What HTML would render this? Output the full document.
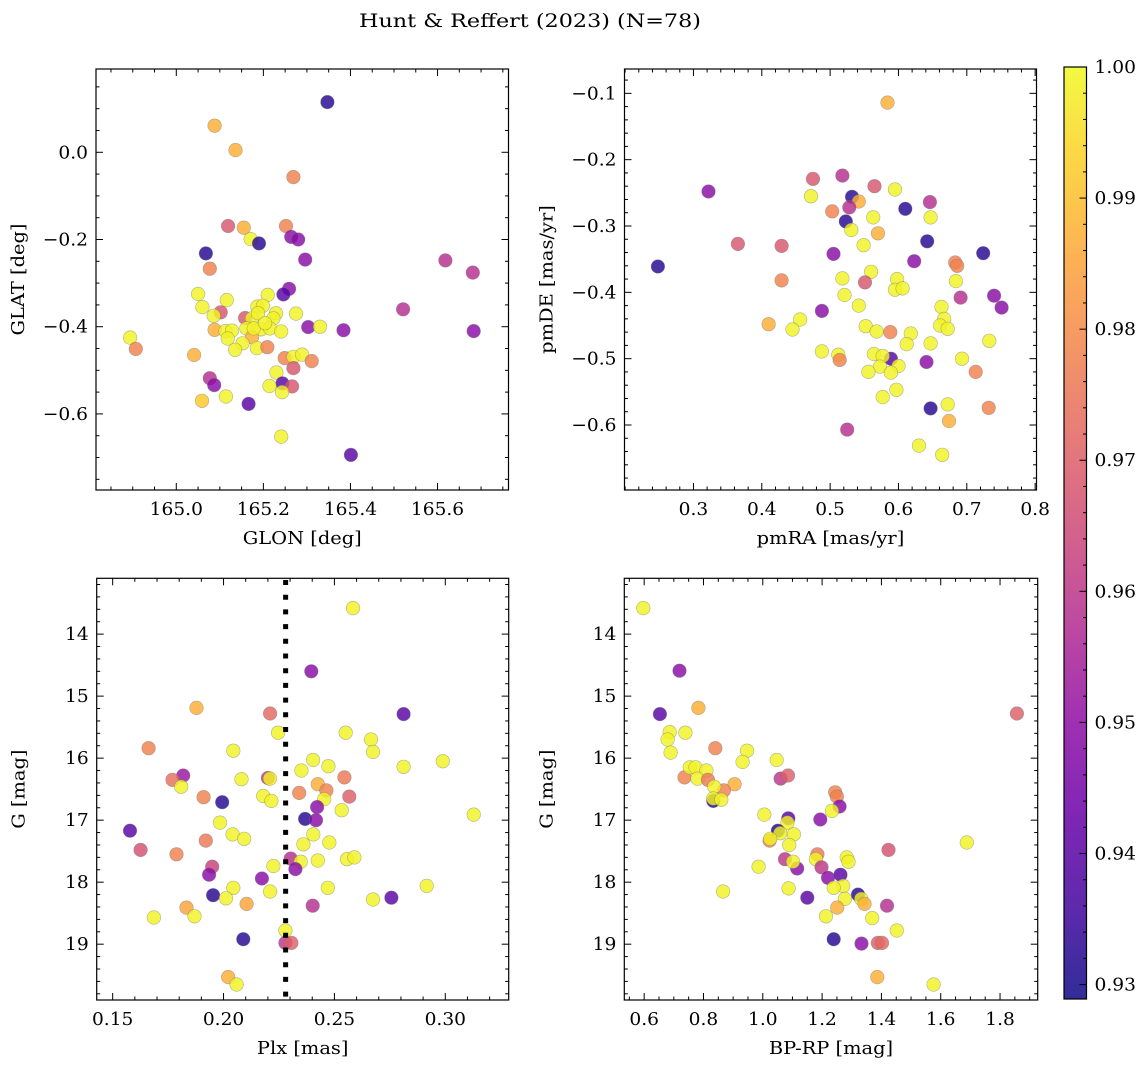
<!DOCTYPE html>
<html><head><meta charset="utf-8">
<style>
body{margin:0;background:#fff;}
svg text{font-family:"DejaVu Serif","Liberation Serif",serif;fill:#000;}
</style></head>
<body>
<svg id="fig" width="1148" height="1067" viewBox="0 0 1148 1067" xmlns="http://www.w3.org/2000/svg">
<defs>
<linearGradient id="cbgrad" x1="0" y1="1" x2="0" y2="0"></linearGradient>
</defs>
<text id="ttl" x="530" y="27" font-size="19" text-anchor="middle">Hunt &amp; Reffert (2023) (N=78)</text>
</svg>
<script>
// ---- Panel 1: GLON / GLAT ----
const glon = [165.347,165.088,165.136,165.269,165.119,165.155,165.252,165.171,165.190,165.264,165.280,165.068,165.296,165.077,165.618,165.681,165.259,165.246,165.050,165.210,165.116,165.060,165.186,165.199,165.102,165.086,165.275,165.229,165.223,165.158,165.174,165.188,165.521,165.303,165.330,165.384,165.683,164.894,164.907,165.088,165.113,165.128,165.118,165.161,165.195,165.215,165.241,165.174,165.152,165.135,165.185,165.209,165.041,165.249,165.269,165.289,165.311,165.269,165.230,165.077,165.087,165.244,165.266,165.214,165.243,165.114,165.059,165.166,165.241,165.401,165.178,165.204];
const glat = [0.115,0.061,0.005,-0.057,-0.169,-0.173,-0.169,-0.199,-0.209,-0.194,-0.200,-0.232,-0.246,-0.267,-0.248,-0.276,-0.313,-0.326,-0.325,-0.327,-0.339,-0.355,-0.354,-0.352,-0.367,-0.375,-0.370,-0.369,-0.381,-0.380,-0.381,-0.369,-0.360,-0.401,-0.400,-0.408,-0.410,-0.425,-0.451,-0.407,-0.410,-0.409,-0.427,-0.404,-0.406,-0.404,-0.411,-0.424,-0.438,-0.453,-0.449,-0.447,-0.465,-0.472,-0.469,-0.464,-0.479,-0.495,-0.505,-0.518,-0.534,-0.530,-0.537,-0.536,-0.550,-0.560,-0.570,-0.577,-0.652,-0.694,-0.404,-0.392];
const prob1 = [0.932,0.987,0.987,0.978,0.968,0.987,0.978,0.999,0.932,0.949,0.949,0.932,0.949,0.978,0.958,0.958,0.949,0.940,0.999,0.999,0.999,0.999,0.999,0.999,0.968,0.999,0.999,0.999,0.999,0.968,0.999,0.999,0.958,0.949,0.999,0.949,0.949,0.999,0.978,0.987,0.999,0.999,0.999,0.999,0.999,0.999,0.999,0.987,0.999,0.999,0.999,0.978,0.987,0.978,0.999,0.999,0.978,0.968,0.999,0.958,0.949,0.940,0.968,0.999,0.999,0.999,0.992,0.940,0.999,0.940,0.999,0.999];

// ---- Panel 2: pmRA / pmDE ----
const pmra = [0.584,0.322,0.475,0.518,0.565,0.595,0.472,0.532,0.542,0.528,0.503,0.610,0.646,0.563,0.647,0.523,0.531,0.570,0.365,0.429,0.549,0.642,0.505,0.724,0.248,0.623,0.683,0.686,0.560,0.429,0.518,0.598,0.551,0.684,0.595,0.606,0.521,0.691,0.740,0.751,0.542,0.488,0.663,0.456,0.410,0.445,0.552,0.568,0.588,0.618,0.667,0.661,0.672,0.612,0.647,0.733,0.488,0.512,0.514,0.564,0.589,0.577,0.573,0.600,0.556,0.589,0.641,0.693,0.713,0.597,0.577,0.647,0.672,0.732,0.674,0.525,0.630,0.664];
const pmde = [-0.114,-0.248,-0.229,-0.224,-0.240,-0.245,-0.255,-0.256,-0.263,-0.272,-0.278,-0.274,-0.264,-0.287,-0.287,-0.293,-0.306,-0.311,-0.327,-0.330,-0.329,-0.323,-0.342,-0.341,-0.361,-0.353,-0.355,-0.360,-0.369,-0.382,-0.379,-0.380,-0.385,-0.383,-0.396,-0.394,-0.404,-0.408,-0.405,-0.423,-0.420,-0.428,-0.422,-0.441,-0.448,-0.456,-0.451,-0.459,-0.460,-0.462,-0.440,-0.450,-0.455,-0.478,-0.477,-0.473,-0.489,-0.494,-0.502,-0.493,-0.500,-0.496,-0.512,-0.511,-0.520,-0.521,-0.505,-0.500,-0.520,-0.547,-0.558,-0.575,-0.569,-0.574,-0.594,-0.607,-0.631,-0.645];
const prob2 = [0.987,0.949,0.968,0.958,0.968,0.999,0.999,0.932,0.987,0.958,0.978,0.932,0.958,0.999,0.999,0.932,0.999,0.987,0.968,0.968,0.999,0.932,0.949,0.932,0.932,0.949,0.978,0.978,0.999,0.978,0.999,0.999,0.968,0.999,0.999,0.999,0.999,0.958,0.949,0.949,0.999,0.949,0.999,0.999,0.987,0.999,0.999,0.999,0.978,0.999,0.999,0.999,0.999,0.999,0.999,0.999,0.999,0.999,0.978,0.999,0.940,0.999,0.999,0.999,0.999,0.999,0.949,0.999,0.978,0.999,0.999,0.932,0.999,0.978,0.987,0.958,0.999,0.999];

// ---- Panel 3: Plx / G ----
const plx = [0.2584,0.2396,0.1878,0.2210,0.2812,0.2246,0.2551,0.2665,0.1662,0.2044,0.2674,0.2404,0.2989,0.2351,0.2473,0.2812,0.2545,0.1818,0.1770,0.2200,0.2209,0.2081,0.1809,0.2425,0.2464,0.2341,0.2567,0.1910,0.1994,0.2454,0.2179,0.2216,0.2422,0.2533,0.3128,0.2368,0.2417,0.1578,0.1984,0.2041,0.2093,0.1920,0.2405,0.2360,0.2477,0.1626,0.1788,0.2303,0.2348,0.2425,0.2557,0.2590,0.2324,0.1949,0.1935,0.2225,0.2173,0.2044,0.1953,0.2011,0.2210,0.2470,0.2916,0.2674,0.2757,0.2104,0.2402,0.1833,0.1869,0.1686,0.2279,0.2089,0.2279,0.2306,0.2021,0.2059];
const g3 = [13.58,14.60,15.19,15.28,15.29,15.59,15.59,15.70,15.84,15.88,15.90,16.03,16.05,16.20,16.13,16.14,16.31,16.28,16.35,16.32,16.33,16.34,16.46,16.42,16.52,16.56,16.62,16.63,16.71,16.66,16.61,16.69,16.79,16.84,16.91,16.98,17.00,17.17,17.04,17.23,17.30,17.33,17.23,17.39,17.36,17.48,17.55,17.62,17.67,17.65,17.63,17.60,17.79,17.75,17.88,17.74,17.94,18.09,18.21,18.26,18.15,18.09,18.06,18.28,18.25,18.35,18.38,18.41,18.55,18.57,18.78,18.92,18.98,18.98,19.53,19.65];
const prob3 = [0.999,0.949,0.987,0.972,0.940,0.999,0.999,0.999,0.978,0.999,0.999,0.999,0.999,0.999,0.999,0.999,0.976,0.952,0.974,0.960,0.999,0.999,0.999,0.987,0.978,0.978,0.970,0.978,0.932,0.999,0.999,0.999,0.949,0.999,0.999,0.932,0.949,0.940,0.999,0.999,0.999,0.976,0.999,0.999,0.999,0.967,0.978,0.958,0.999,0.999,0.999,0.999,0.949,0.963,0.949,0.999,0.949,0.999,0.932,0.999,0.999,0.999,0.999,0.999,0.940,0.985,0.958,0.985,0.999,0.999,0.999,0.932,0.960,0.970,0.987,0.999];

// ---- Panel 4: BP-RP / G ----
const bprp = [0.597,0.719,0.653,0.783,1.857,0.686,0.739,0.679,0.689,0.840,0.947,0.932,1.047,0.736,0.754,0.773,0.810,0.780,0.815,1.060,1.085,0.905,0.869,0.836,0.833,0.833,0.860,1.244,1.250,1.259,1.233,1.005,1.086,1.194,1.083,1.051,1.059,1.105,1.023,1.025,1.089,1.688,1.424,1.184,1.179,1.075,1.198,1.116,1.102,1.283,1.289,0.986,1.220,1.262,1.271,1.239,1.087,0.866,1.150,1.321,1.332,1.277,1.343,1.419,1.251,1.213,1.369,1.452,1.239,1.333,1.388,1.402,1.386,1.576];
const g4 = [13.58,14.59,15.29,15.19,15.28,15.58,15.59,15.70,15.91,15.84,15.88,16.06,16.03,16.31,16.15,16.15,16.20,16.33,16.35,16.33,16.28,16.42,16.52,16.46,16.69,16.65,16.67,16.55,16.62,16.78,16.85,16.91,16.97,16.99,17.04,17.17,17.21,17.23,17.33,17.30,17.40,17.36,17.48,17.55,17.63,17.63,17.76,17.78,17.67,17.60,17.67,17.75,17.93,17.88,18.06,18.09,18.10,18.15,18.25,18.20,18.27,18.27,18.35,18.38,18.41,18.55,18.58,18.78,18.92,18.99,18.98,18.98,19.53,19.65];
const prob4 = [0.999,0.949,0.940,0.987,0.970,0.999,0.999,0.999,0.999,0.978,0.999,0.999,0.999,0.978,0.999,0.999,0.999,0.999,0.976,0.960,0.970,0.987,0.978,0.999,0.932,0.999,0.999,0.978,0.978,0.949,0.999,0.999,0.940,0.949,0.999,0.932,0.999,0.999,0.978,0.999,0.999,0.999,0.967,0.976,0.999,0.960,0.960,0.949,0.999,0.999,0.999,0.999,0.949,0.940,0.999,0.999,0.999,0.999,0.940,0.932,0.999,0.999,0.987,0.958,0.987,0.999,0.999,0.999,0.932,0.949,0.970,0.972,0.987,0.999];

// ---- Tick labels ----
const p1xTicks = [165.0,165.2,165.4,165.6];
const p1xLabels = ["165.0","165.2","165.4","165.6"];
const p1yTicks = [0.0,-0.2,-0.4,-0.6];
const p1yLabels = ["0.0","\u22120.2","\u22120.4","\u22120.6"];
const p2xTicks = [0.3,0.4,0.5,0.6,0.7,0.8];
const p2xLabels = ["0.3","0.4","0.5","0.6","0.7","0.8"];
const p2yTicks = [-0.1,-0.2,-0.3,-0.4,-0.5,-0.6];
const p2yLabels = ["\u22120.1","\u22120.2","\u22120.3","\u22120.4","\u22120.5","\u22120.6"];
const p3xTicks = [0.15,0.20,0.25,0.30];
const p3xLabels = ["0.15","0.20","0.25","0.30"];
const gTicks = [14,15,16,17,18,19];
const gLabels = ["14","15","16","17","18","19"];
const p4xTicks = [0.6,0.8,1.0,1.2,1.4,1.6,1.8];
const p4xLabels = ["0.6","0.8","1.0","1.2","1.4","1.6","1.8"];
const cbTicks = [1.00,0.99,0.98,0.97,0.96,0.95,0.94,0.93];
const cbLabels = ["1.00","0.99","0.98","0.97","0.96","0.95","0.94","0.93"];
const plxMean = 0.228;

const NS = "http://www.w3.org/2000/svg";
const svg = document.getElementById('fig');
const PL = [[0,13,8,135],[0.1,65,4,157],[0.2,106,0,168],[0.3,143,13,164],[0.4,177,42,144],[0.5,204,71,120],[0.6,225,100,98],[0.7,242,132,75],[0.8,252,166,54],[0.9,252,206,37],[1,240,249,33]];
function plasma(t){t=Math.max(0,Math.min(1,t));for(let i=1;i<PL.length;i++){if(t<=PL[i][0]){const a=PL[i-1],b=PL[i],f=(t-a[0])/(b[0]-a[0]);return 'rgb('+[1,2,3].map(k=>Math.round(a[k]+(b[k]-a[k])*f)).join(',')+')';}}return 'rgb(240,249,33)';}
const CMIN=0.9289, CMAX=1.0;
function mk(tag,attrs,parent){const e=document.createElementNS(NS,tag);for(const k in attrs)e.setAttribute(k,attrs[k]);(parent||svg).appendChild(e);return e;}
function labW(s,fs){let w=0;for(const ch of s){w+=(ch>='0'&&ch<='9')?0.636:(ch=='.'?0.318:(ch=='\u2212'?0.838:0.6));}return w*fs;}
const FS=18;
function tickText(parent,x,y,s,anchor,name){const t=mk('text',{x:x,y:y,'font-size':FS,'text-anchor':anchor},parent);t.textContent=s;
  t.setAttribute('textLength',labW(s,18.6).toFixed(1));
  t.setAttribute('lengthAdjust','spacingAndGlyphs');
  
  
  return t;}
const titles=[];

function panel(name,box,xd,yd,xT,xL,yT,yL,xMinor,yMinor,xs,ys,ps,xlab,ylab){
  const [L,T,R,B]=box;
  const g=mk('g',{});
  
  
  const sx=v=>L+(v-xd[0])/(xd[1]-xd[0])*(R-L);
  const sy=v=>T+(v-yd[1])/(yd[0]-yd[1])*(B-T);
  const pg=mk('g',{},g);
  
  
  for(let i=0;i<xs.length;i++){
    const c=mk('circle',{cx:sx(xs[i]).toFixed(1),cy:sy(ys[i]).toFixed(1),r:6.8,fill:plasma((ps[i]-CMIN)/(CMAX-CMIN)),'fill-opacity':0.82,stroke:'#777','stroke-opacity':0.55,'stroke-width':0.6},pg);
    
    
  }
  const tg=mk('g',{stroke:'#000','stroke-width':1},g);
  
  
  const eps=1e-9;
  const x0=Math.ceil(xd[0]/xMinor-eps);
  for(let k=x0;k*xMinor<=xd[1]+eps;k++){const v=k*xMinor;const isMaj=xT.some(t=>Math.abs(t-v)<xMinor/3);const len=isMaj?7:3.5;const px=sx(v);
    mk('line',{x1:px,x2:px,y1:B,y2:B-len},tg);mk('line',{x1:px,x2:px,y1:T,y2:T+len},tg);}
  const y0=Math.ceil(yd[0]/yMinor-eps);
  for(let k=y0;k*yMinor<=yd[1]+eps;k++){const v=k*yMinor;const isMaj=yT.some(t=>Math.abs(t-v)<yMinor/3);const len=isMaj?7:3.5;const py=sy(v);
    mk('line',{x1:L,x2:L+len,y1:py,y2:py},tg);mk('line',{x1:R,x2:R-len,y1:py,y2:py},tg);}
  xT.forEach((v,i)=>tickText(g,sx(v),B+25,xL[i],'middle','x-tick-label'));
  yT.forEach((v,i)=>tickText(g,L-8,sy(v)+6,yL[i],'end','y-tick-label'));
  const xl=mk('text',{x:(L+R)/2,y:B+54,'font-size':FS,'text-anchor':'middle'},g);xl.textContent=xlab;
  
  
  titles.push(xl);
  const yl=mk('text',{x:0,y:0,'font-size':FS,'text-anchor':'middle',transform:'translate('+(L-72)+','+((T+B)/2)+') rotate(-90)'},g);yl.textContent=ylab;
  
  
  titles.push(yl);
  const fr=mk('rect',{x:L,y:T,width:R-L,height:B-T,fill:'none',stroke:'#000','stroke-width':1.2},g);
  
  
  return {sx,sy,g};
}

panel('panel-glon-glat',[96,69,508.5,490],[164.8156,165.763],[-0.7745,0.191],p1xTicks,p1xLabels,p1yTicks,p1yLabels,0.05,0.05,glon,glat,prob1,'GLON [deg]','GLAT [deg]');
panel('panel-pm',[624.5,69,1036.5,490],[0.1991,0.802],[-0.698,-0.0633],p2xTicks,p2xLabels,p2yTicks,p2yLabels,0.02,0.02,pmra,pmde,prob2,'pmRA [mas/yr]','pmDE [mas/yr]');
const p3=panel('panel-plx-g',[96.7,578.3,508.7,1000],[0.1428,0.3286],[-19.9,-13.1],p3xTicks,p3xLabels,gTicks.map(v=>-v),gLabels,0.01,0.2,plx,g3.map(v=>-v),prob3,'Plx [mas]','G [mag]');
panel('panel-cmd',[624.3,578.3,1037.7,1000],[0.533,1.927],[-19.9,-13.1],p4xTicks,p4xLabels,gTicks.map(v=>-v),gLabels,0.05,0.2,bprp,g4.map(v=>-v),prob4,'BP-RP [mag]','G [mag]');
const ml=mk('line',{x1:p3.sx(plxMean),x2:p3.sx(plxMean),y1:580,y2:1000,stroke:'#000','stroke-width':5,'stroke-dasharray':'5,9.7'},p3.g);


p3.g.insertBefore(ml,p3.g.children[1]);

const ref=titles[0].getComputedTextLength();
const fac=ref>0?119/ref:1;
titles.forEach(t=>{const w=t.getComputedTextLength();if(w>0){t.setAttribute('textLength',(w*fac).toFixed(1));t.setAttribute('lengthAdjust','spacingAndGlyphs');}});
const ttl=document.getElementById('ttl');
ttl.setAttribute('textLength','342');
ttl.setAttribute('lengthAdjust','spacingAndGlyphs');

// colorbar
const grad=document.getElementById('cbgrad');
for(let i=0;i<=10;i++){mk('stop',{offset:(i/10),'stop-color':plasma(i/10)},grad);}
const cb=mk('g',{});


const CT=67,CB=999,CL=1064,CR=1086.5;
const cy=v=>CB-(v-CMIN)/(CMAX-CMIN)*(CB-CT);
mk('rect',{x:CL,y:CT,width:CR-CL,height:CB-CT,fill:'url(#cbgrad)','fill-opacity':0.85},cb);
for(let k=Math.ceil(CMIN/0.002-1e-9);k*0.002<=CMAX+1e-9;k++){const v=k*0.002;const maj=cbTicks.some(t=>Math.abs(t-v)<0.0005);
  mk('line',{x1:CR,x2:CR-(maj?7:3.5),y1:cy(v),y2:cy(v),stroke:'#000','stroke-width':1},cb);}
cbTicks.forEach((v,i)=>tickText(cb,CR+8,cy(v)+6,cbLabels[i],'start','colorbar-tick-label'));
mk('rect',{x:CL,y:CT,width:CR-CL,height:CB-CT,fill:'none',stroke:'#000','stroke-width':1.2},cb);
</script>
</body></html>
